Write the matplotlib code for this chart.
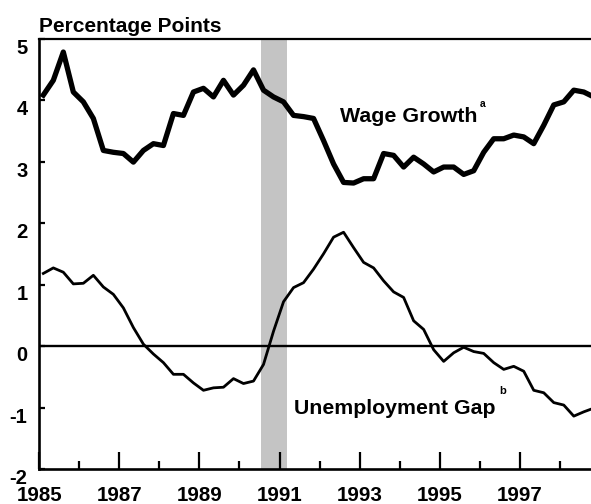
import matplotlib
matplotlib.use('Agg')
import matplotlib.pyplot as plt
import numpy as np
from matplotlib.transforms import ScaledTranslation

plt.rcParams['font.family'] = ['Liberation Sans', 'DejaVu Sans']
plt.rcParams['font.weight'] = 'bold'
plt.rcParams['hatch.color'] = '#7a7a7a'
plt.rcParams['hatch.linewidth'] = 0.6

# ---- data (quarterly, 1985Q1 .. 1998Q4) ----
start_year = 1985.1
wage_growth = [4.08, 4.32, 4.78, 4.13, 3.97, 3.70, 3.18, 3.15, 3.13, 2.99,
               3.18, 3.29, 3.26, 3.78, 3.75, 4.13, 4.19, 4.05, 4.32, 4.08,
               4.24, 4.49, 4.16, 4.05, 3.97, 3.75, 3.73, 3.70, 3.34, 2.96,
               2.66, 2.65, 2.72, 2.72, 3.13, 3.10, 2.91, 3.07, 2.96, 2.83,
               2.91, 2.91, 2.79, 2.85, 3.15, 3.37, 3.37, 3.43, 3.40, 3.29,
               3.59, 3.92, 3.97, 4.16, 4.13, 4.05]
unemployment_gap = [1.18, 1.27, 1.20, 1.01, 1.02, 1.15, 0.96, 0.84, 0.62, 0.30,
                    0.03, -0.13, -0.27, -0.46, -0.46, -0.60, -0.72, -0.68, -0.67, -0.53,
                    -0.61, -0.57, -0.30, 0.24, 0.72, 0.95, 1.03, 1.25, 1.50, 1.77,
                    1.85, 1.60, 1.36, 1.27, 1.06, 0.88, 0.79, 0.41, 0.27, -0.06,
                    -0.25, -0.11, -0.02, -0.09, -0.12, -0.27, -0.38, -0.33, -0.41, -0.72,
                    -0.76, -0.92, -0.96, -1.14, -1.07, -1.01]
recession = (1990.54, 1991.19)
major_years = [1985, 1987, 1989, 1991, 1993, 1995, 1997]
minor_years = [1986, 1988, 1990, 1992, 1994, 1996, 1998]
y_ticks = [-2, -1, 0, 1, 2, 3, 4, 5]

t = start_year + np.arange(len(wage_growth)) * 0.25

fig = plt.figure(figsize=(5.91, 5.04), dpi=100)
ax = fig.add_axes([0.0665, 0.0694, 0.9335, 0.8542])

ax.axvspan(recession[0], recession[1], facecolor='#c4c4c4', edgecolor='#c4c4c4',
           hatch='.....', lw=0, zorder=0)
ax.axhline(0, color='black', lw=1.7, zorder=1)
ax.plot(t, wage_growth, color='black', lw=3.8, zorder=3)
ax.plot(t, unemployment_gap, color='black', lw=2.0, zorder=3)

ax.set_xlim(1985, 1998.78)
ax.set_ylim(-2, 5)

ax.spines['right'].set_visible(False)
ax.spines['left'].set_linewidth(1.9)
ax.spines['bottom'].set_linewidth(1.9)
ax.spines['top'].set_linewidth(1.6)

ax.set_yticks(y_ticks)
ax.set_yticklabels([str(v) for v in y_ticks], fontsize=14.5, fontweight='bold')
ax.set_xticks(major_years)
ax.set_xticklabels([str(v) for v in major_years], fontsize=14.8, fontweight='bold')
ax.set_xticks(minor_years, minor=True)

ax.tick_params(axis='y', direction='in', length=4, width=1.6, pad=8.5)
ax.tick_params(axis='x', which='major', direction='in', length=12.5, width=1.6, pad=12)
ax.tick_params(axis='x', which='minor', direction='in', length=6, width=1.6)

off = ScaledTranslation(0, -7.5 / 100, fig.dpi_scale_trans)
for lbl in ax.get_yticklabels():
    lbl.set_transform(lbl.get_transform() + off)

ax.text(1992.51, 3.64, 'Wage Growth', fontsize=15.4, fontweight='bold',
        va='baseline', ha='left')
ax.text(1996.0, 3.93, 'a', fontsize=7.5, fontweight='bold', va='center', ha='left')
ax.text(1991.36, -1.11, 'Unemployment Gap', fontsize=15.3, fontweight='bold',
        va='baseline', ha='left')
ax.text(1996.5, -0.73, 'b', fontsize=8, fontweight='bold', va='center', ha='left')

fig.text(0.0665, 0.937, 'Percentage Points', fontsize=15, fontweight='bold',
         va='baseline', ha='left')

fig.savefig('out.png', dpi=100)
